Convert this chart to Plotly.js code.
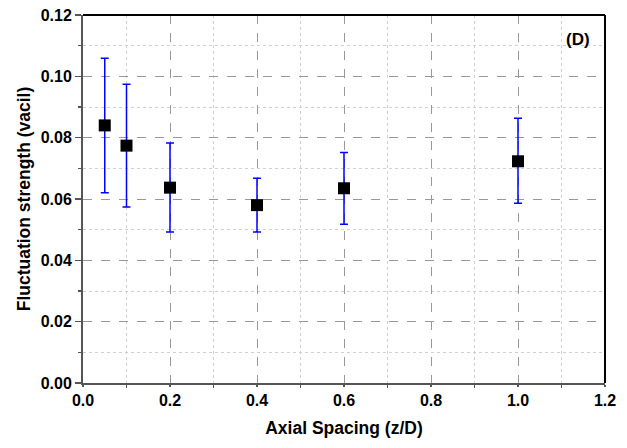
<!DOCTYPE html>
<html>
<head>
<meta charset="utf-8">
<script src="https://cdn.plot.ly/plotly-3.0.1.min.js"></script>
<style>html,body{margin:0;padding:0;background:#fff}#chart{width:627px;height:448px}</style>
</head>
<body>
<div id="chart"></div>
<script>
const axialSpacing = [0.05, 0.1, 0.2, 0.4, 0.6, 1.0];
const fluctuation = [0.0840, 0.0774, 0.0637, 0.0580, 0.0635, 0.0723];
const upperBound = [0.1059, 0.0974, 0.0783, 0.0668, 0.0752, 0.0863];
const lowerBound = [0.0620, 0.0574, 0.0492, 0.0492, 0.0518, 0.0586];

const errPlus = upperBound.map((u, i) => u - fluctuation[i]);
const errMinus = lowerBound.map((l, i) => fluctuation[i] - l);

const font = {family: 'Liberation Sans, Arial, sans-serif', color: '#000'};

const trace = {
  x: axialSpacing,
  y: fluctuation,
  type: 'scatter',
  mode: 'markers',
  marker: {symbol: 'square', size: 12, color: '#000'},
  error_y: {type: 'data', symmetric: false, array: errPlus, arrayminus: errMinus,
            color: '#0000ff', thickness: 1.5, width: 4},
  showlegend: false
};

const axisCommon = {
  showline: true, linecolor: '#555', linewidth: 2, mirror: false,
  ticks: 'outside', ticklen: 6, tickwidth: 1.5, tickcolor: '#555',
  showgrid: true, gridcolor: '#999', griddash: 'dash', gridwidth: 1,
  zeroline: false,
  tickfont: Object.assign({size: 16, weight: 'bold'}, font)
};

const layout = {
  width: 627, height: 448,
  margin: {l: 83, r: 22, t: 15, b: 65},
  paper_bgcolor: '#fff', plot_bgcolor: '#fff',
  xaxis: Object.assign({}, axisCommon, {
    range: [0, 1.2], dtick: 0.2, tick0: 0, tickformat: '.1f', ticklen: 2,
    minor: {dtick: 0.1, ticks: 'outside', ticklen: 3, tickcolor: '#555',
            showgrid: true, gridcolor: '#d0d0d0', griddash: 'dot', gridwidth: 1},
    title: {text: 'Axial Spacing (z/D)', font: Object.assign({size: 17.5, weight: 'bold'}, font), standoff: 14}
  }),
  yaxis: Object.assign({}, axisCommon, {
    range: [0, 0.12], dtick: 0.02, tick0: 0, tickformat: '.2f',
    minor: {dtick: 0.01, ticks: 'outside', ticklen: 3, tickcolor: '#555',
            showgrid: true, gridcolor: '#d0d0d0', griddash: 'dot', gridwidth: 1},
    title: {text: 'Fluctuation strength (vacil)', font: Object.assign({size: 17.5, weight: 'bold'}, font), standoff: 6}
  }),
  shapes: [
    {type: 'line', xref: 'paper', yref: 'paper', x0: 0, x1: 1, y0: 1, y1: 1, line: {color: '#000', width: 2}},
    {type: 'line', xref: 'paper', yref: 'paper', x0: 1, x1: 1, y0: 0, y1: 1, line: {color: '#000', width: 2}}
  ],
  annotations: [{
    text: '(D)', xref: 'paper', yref: 'paper', x: 0.948, y: 0.933,
    xanchor: 'center', yanchor: 'middle', showarrow: false,
    font: Object.assign({size: 17, weight: 'bold'}, font)
  }]
};

Plotly.newPlot('chart', [trace], layout, {displayModeBar: false, staticPlot: true});
</script>
</body>
</html>
